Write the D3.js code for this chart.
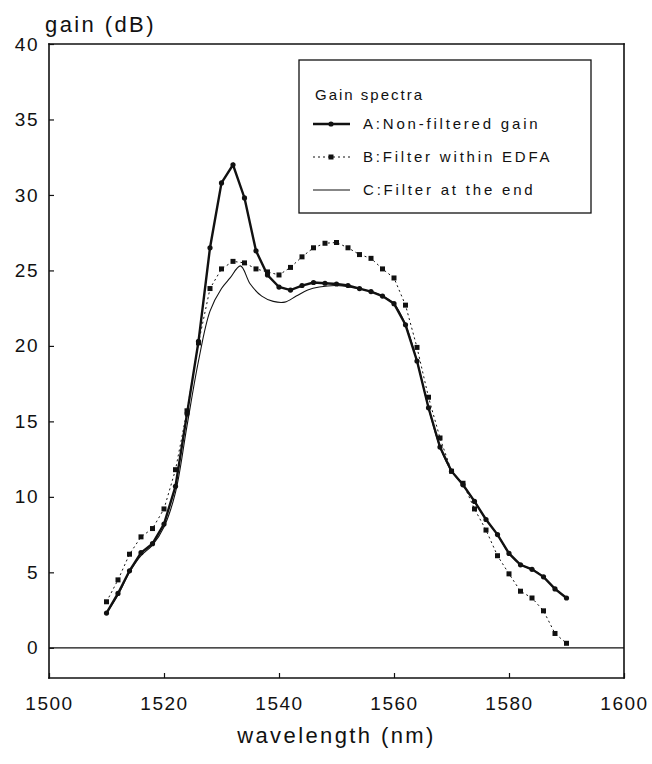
<!DOCTYPE html>
<html>
<head>
<meta charset="utf-8">
<script src="https://cdn.jsdelivr.net/npm/d3@7"></script>
<style>
  body { margin: 0; background: #fff; }
  svg { display: block; }
  text { font-family: "Liberation Sans", Arial, sans-serif; fill: #111; }
</style>
</head>
<body>
<div id="container"></div>
<script>
// wavelengths (nm) of the measured points
var wavelength = [1510, 1512, 1514, 1516, 1518, 1520, 1522, 1524, 1526, 1528,
  1530, 1532, 1534, 1536, 1538, 1540, 1542, 1544, 1546, 1548,
  1550, 1552, 1554, 1556, 1558, 1560, 1562, 1564, 1566, 1568,
  1570, 1572, 1574, 1576, 1578, 1580, 1582, 1584, 1586, 1588, 1590];

// A: non-filtered gain (dB)
var gainA = [2.3, 3.6, 5.1, 6.3, 6.9, 8.2, 10.7, 15.5, 20.3, 26.5,
  30.8, 32.0, 29.8, 26.3, 24.7, 23.9, 23.7, 24.0, 24.2, 24.15,
  24.1, 24.0, 23.8, 23.6, 23.3, 22.8, 21.4, 19.0, 15.9, 13.3,
  11.7, 10.8, 9.7, 8.5, 7.5, 6.25, 5.5, 5.2, 4.7, 3.9, 3.3];

// B: filter within EDFA (dB)
var gainB = [3.05, 4.5, 6.2, 7.35, 7.9, 9.2, 11.8, 15.7, 20.2, 23.8,
  25.1, 25.6, 25.5, 25.1, 24.9, 24.7, 25.2, 25.9, 26.5, 26.8,
  26.85, 26.5, 26.05, 25.8, 25.1, 24.5, 22.7, 19.9, 16.6, 13.9,
  11.7, 10.9, 9.2, 7.8, 6.1, 4.9, 3.75, 3.3, 2.45, 0.95, 0.3];

// C: filter at the end (continuous curve)
var wavelengthC = [1510, 1512, 1514, 1516, 1518, 1520, 1522, 1524, 1526, 1528,
  1530, 1531.5, 1533.3, 1535, 1537, 1539, 1541, 1543, 1545, 1547,
  1550, 1553, 1556, 1558, 1560, 1562, 1564, 1566, 1568, 1570,
  1572, 1574, 1576, 1578, 1580, 1582, 1584, 1586, 1588, 1590];
var gainC = [2.3, 3.5, 5.0, 6.1, 6.8, 8.0, 10.3, 14.7, 19.0, 22.3,
  23.8, 24.5, 25.3, 24.1, 23.3, 22.95, 22.9, 23.3, 23.7, 23.9,
  24.0, 23.85, 23.6, 23.3, 22.8, 21.4, 19.0, 15.9, 13.3, 11.7,
  10.8, 9.7, 8.5, 7.5, 6.25, 5.5, 5.2, 4.7, 3.9, 3.3];

var xTicks = [1500, 1520, 1540, 1560, 1580, 1600];
var yTicks = [0, 5, 10, 15, 20, 25, 30, 35, 40];

var legendTitle = "Gain spectra";
var legendLabels = ["A:Non-filtered gain", "B:Filter within EDFA", "C:Filter at the end"];

var svgWidth = 652;
var svgHeight = 764;

var margin = { top: 44, right: 28, bottom: 86, left: 49 };
var width = svgWidth - margin.left - margin.right;
var height = svgHeight - margin.top - margin.bottom;

var svg = d3.select("#container")
  .append("svg")
  .attr("width", svgWidth)
  .attr("height", svgHeight);

var chart = svg.append("g")
  .attr("transform", `translate(${margin.left}, ${margin.top})`);

var x = d3.scaleLinear().domain([1500, 1600]).range([0, width]);
var y = d3.scaleLinear().domain([-2, 40]).range([height, 0]);

// axes (ticks point inward)
var yAxis = d3.axisLeft(y).tickValues(yTicks).tickSizeInner(-5).tickSizeOuter(0).tickPadding(10);
var xAxis = d3.axisBottom(x).tickValues(xTicks).tickFormat(d3.format("d"))
  .tickSizeInner(-5).tickSizeOuter(0).tickPadding(19);

var gy = chart.append("g").call(yAxis);
var gx = chart.append("g").attr("transform", `translate(0, ${height})`).call(xAxis);

[gx, gy].forEach(function(g) {
  g.select(".domain").remove();
  g.selectAll("line").attr("stroke", "#111").attr("stroke-width", 1.2);
  g.selectAll("text")
    .style("font-size", "19px")
    .style("letter-spacing", "1.5px")
    .attr("fill", "#111");
});

// frame and zero line
var frame = [[0, 0, width, 0], [width, 0, width, height], [width, height, 0, height], [0, height, 0, 0]];
chart.selectAll(".frame")
  .data(frame)
  .enter()
  .append("line")
  .attr("class", "frame")
  .attr("x1", d => d[0]).attr("y1", d => d[1])
  .attr("x2", d => d[2]).attr("y2", d => d[3])
  .attr("stroke", "#111")
  .attr("stroke-width", 1.6)
  .attr("stroke-linecap", "square");

chart.append("line")
  .attr("x1", 0).attr("x2", width)
  .attr("y1", y(0)).attr("y2", y(0))
  .attr("stroke", "#111")
  .attr("stroke-width", 1.3);

var dataA = wavelength.map((w, i) => ({ w: w, g: gainA[i] }));
var dataB = wavelength.map((w, i) => ({ w: w, g: gainB[i] }));
var dataC = wavelengthC.map((w, i) => ({ w: w, g: gainC[i] }));

var line = d3.line().x(d => x(d.w)).y(d => y(d.g));
var smooth = d3.line().x(d => x(d.w)).y(d => y(d.g)).curve(d3.curveCatmullRom.alpha(0.5));

// C: thin solid
chart.append("path")
  .datum(dataC)
  .attr("d", smooth)
  .attr("fill", "none")
  .attr("stroke", "#111")
  .attr("stroke-width", 1.1);

// B: dotted with square markers
chart.append("path")
  .datum(dataB)
  .attr("d", line)
  .attr("fill", "none")
  .attr("stroke", "#111")
  .attr("stroke-width", 1)
  .attr("stroke-dasharray", "2,3");

chart.selectAll(".markB")
  .data(dataB)
  .enter()
  .append("rect")
  .attr("class", "markB")
  .attr("x", d => x(d.w) - 2.5)
  .attr("y", d => y(d.g) - 2.5)
  .attr("width", 5)
  .attr("height", 5)
  .attr("fill", "#111");

// A: thick with round markers
chart.append("path")
  .datum(dataA)
  .attr("d", line)
  .attr("fill", "none")
  .attr("stroke", "#111")
  .attr("stroke-width", 2.4);

chart.selectAll(".markA")
  .data(dataA)
  .enter()
  .append("circle")
  .attr("class", "markA")
  .attr("cx", d => x(d.w))
  .attr("cy", d => y(d.g))
  .attr("r", 2.6)
  .attr("fill", "#111");

// axis titles
svg.append("text")
  .attr("x", 45)
  .attr("y", 32)
  .style("font-size", "22px")
  .style("letter-spacing", "2.4px")
  .text("gain (dB)");

svg.append("text")
  .attr("x", margin.left + width / 2)
  .attr("y", 743)
  .attr("text-anchor", "middle")
  .style("font-size", "22px")
  .style("letter-spacing", "2.4px")
  .attr("fill", "#333")
  .text("wavelength (nm)");

// legend
var legend = svg.append("g").attr("transform", "translate(299, 60)");

legend.append("rect")
  .attr("width", 292)
  .attr("height", 153)
  .attr("fill", "#fff")
  .attr("stroke", "#111")
  .attr("stroke-width", 1.3);

legend.append("text")
  .attr("x", 16)
  .attr("y", 40)
  .style("font-size", "15px")
  .style("letter-spacing", "2px")
  .text(legendTitle);

var rowY = [64, 97, 130];

legendLabels.forEach(function(label, i) {
  var ly = rowY[i];
  var sample = legend.append("line")
    .attr("x1", 14).attr("x2", 51)
    .attr("y1", ly).attr("y2", ly)
    .attr("stroke", "#111");
  if (i === 0) {
    sample.attr("stroke-width", 2.4);
    legend.append("circle").attr("cx", 32).attr("cy", ly).attr("r", 2.6).attr("fill", "#111");
  } else if (i === 1) {
    sample.attr("stroke-width", 1).attr("stroke-dasharray", "2,3");
    legend.append("rect").attr("x", 29.5).attr("y", ly - 2.5).attr("width", 5).attr("height", 5).attr("fill", "#111");
  } else {
    sample.attr("stroke-width", 1.1);
  }
  legend.append("text")
    .attr("x", 64)
    .attr("y", ly + 5)
    .style("font-size", "15px")
    .style("letter-spacing", "2.8px")
    .text(label);
});
</script>
</body>
</html>
